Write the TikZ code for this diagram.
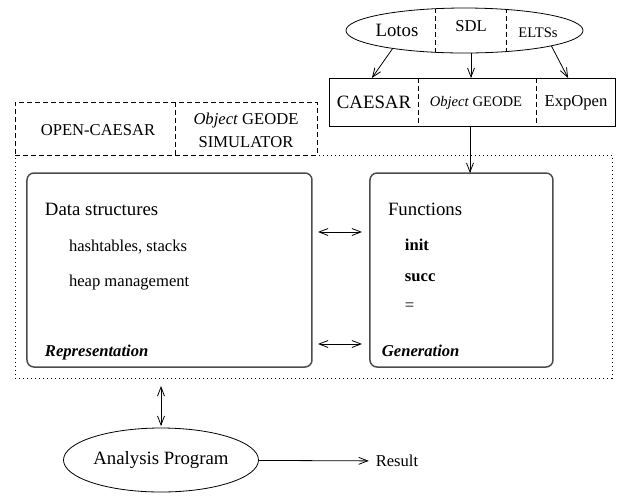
\documentclass[tikz,border=0pt]{standalone}
\usepackage{fontspec}
\setmainfont{Liberation Serif}
\usepackage{tikz}
\usetikzlibrary{positioning,calc,shapes.geometric,arrows.meta}

\begin{document}
\begin{tikzpicture}[
				x=0.5pt, y=-0.5pt,
				>={Straight Barb[length=4.5pt,width=3.5pt]},
				every node/.style={inner sep=0pt, outer sep=0pt},
				bigtxt/.style={font=\fontsize{9.4}{11}\selectfont},
				midtxt/.style={font=\fontsize{8.3}{11.5}\selectfont},
				smalltxt/.style={font=\fontsize{7.3}{9}\selectfont},
				oval/.style={ellipse, draw=black, thin},
				cut/.style={thin, dash pattern=on 2.5pt off 1.5pt},
				dots/.style={thin, dash pattern=on 0.5pt off 1.5pt},
				rbox/.style={draw=black!70, line width=0.75pt, rounded corners=3.5pt, minimum height=97pt},
				arr/.style={->, thin}
				]
				\useasboundingbox (0,0) rectangle (618,495);
				
				% Ngôn ngữ đầu vào: Lotos | SDL | ELTSs
				\node[oval, minimum width=118.5pt, minimum height=22.5pt] (srcs) at (464.5,30.5) {};
				\begin{scope}
					\clip (srcs.center) ellipse [x radius=59.25pt, y radius=11.25pt];
					\draw[cut] (435,0) -- (435,60) (506,0) -- (506,60);
				\end{scope}
				\node[bigtxt] (lotos) at (397,30) {Lotos};
				\node[midtxt] (sdl) at (471,26) {SDL};
				\node[smalltxt] (eltss) at (538,33) {ELTSs};
				
				% Công cụ: CAESAR | Object GEODE | ExpOpen
				\node[draw, thin, minimum width=143pt, minimum height=24pt] (tools) at (472,102) {};
				\draw[cut] (tools.north west) ++(89,0) -- ++(0,48);
				\draw[cut] (tools.north west) ++(207,0) -- ++(0,48);
				\node[bigtxt] (caesar) at (374,102) {CAESAR};
				\node[smalltxt] (geode) at (476,103) {\textit{Object} GEODE};
				\node[midtxt] (expopen) at (576,103) {ExpOpen};
				
				\draw[arr] (srcs.194) -- ($(tools.north west)!0.15!(tools.north east)$);
				\draw[arr] (sdl |- srcs.south) -- (sdl |- tools.north);
				\draw[arr] (srcs.-10) -- ($(tools.north west)!0.836!(tools.north east)$);
				
				% Khung chấm bao ngoài
				\node[draw, dots, minimum width=298.5pt, minimum height=111.5pt] (core) at (313.5,266.5) {};
				
				% Thư viện: OPEN-CAESAR | Object GEODE SIMULATOR
				\node[draw, cut, minimum width=151pt, minimum height=26.5pt] (sim) at (166,128.5) {};
				\draw[cut] (sim.north west) ++(160,0) -- ++(0,53);
				\node[midtxt] (opencaesar) at (98,130) {OPEN-CAESAR};
				\node[midtxt, align=center] (simu) at (246,130) {\textit{Object} GEODE\\SIMULATOR};
				
				% Hai khối bên trong
				\node[rbox, minimum width=142.5pt] (rep) at (169.5,270) {};
				\node[rbox, minimum width=91.5pt] (gen) at (461.5,270) {};
				
				\node[bigtxt, anchor=base west] (datas) at (45,215) {Data structures};
				\node[midtxt, anchor=base west] (hash) at (69,251) {hashtables, stacks};
				\node[midtxt, anchor=base west] (heap) at (69,286) {heap management};
				\node[midtxt, anchor=base west] (replbl) at (45,356) {\textbf{\textit{Representation}}};
				
				\node[bigtxt, anchor=base west] (funcs) at (388,215) {Functions};
				\node[midtxt, anchor=base west] (init) at (405,250) {\textbf{init}};
				\node[midtxt, anchor=base west] (succ) at (405,281) {\textbf{succ}};
				\node[midtxt, anchor=base west] (eq) at (405,310) {=};
				\node[midtxt, anchor=base west] (genlbl) at (382,356) {\textbf{\textit{Generation}}};
				
				\coordinate (toolsout) at ($(tools.south west)!0.493!(tools.south east)$);
				\draw[arr] (toolsout) -- (toolsout |- gen.north);
				\draw[<->, thin, shorten <=3pt, shorten >=4pt] (rep.east |- 0,232) -- (gen.west |- 0,232);
				\draw[<->, thin, shorten <=3pt, shorten >=4pt] (rep.east |- 0,344) -- (gen.west |- 0,344);
				
				% Chương trình phân tích
				\node[oval, bigtxt, minimum width=97.5pt, minimum height=32pt] (ana) at (161,460) {Analysis Program};
				\node[midtxt, inner sep=3.5pt] (res) at (397,461) {Result};
				\draw[<->, thin, shorten <=4pt, shorten >=1pt] (ana.north |- core.south) -- (ana.north);
				\draw[arr] (ana) -- (res);
				
			\end{tikzpicture}
\end{document}
